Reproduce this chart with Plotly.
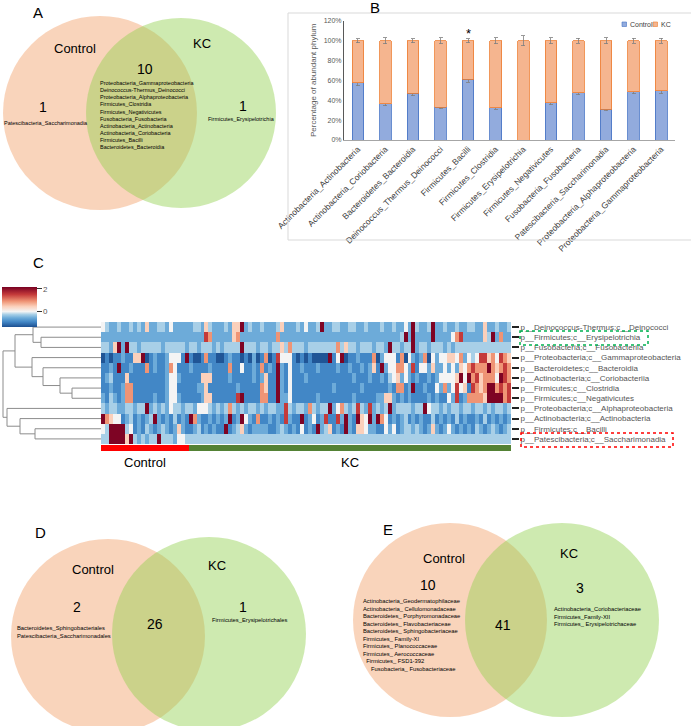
import plotly.graph_objects as go

W, H = 691, 726
FONT = "Liberation Sans"

# ---------------- Panel B data ----------------
bar_categories = [
    "Actinobacteria_Actinobacteria", "Actinobacteria_Coriobacteria", "Bacteroidetes_Bacteroidia",
    "Deinococcus_Thermus_Deinococci", "Firmicutes_Bacilli", "Firmicutes_Clostridia",
    "Firmicutes_Erysipelotrichia", "Firmicutes_Negativicutes", "Fusobacteria_Fusobacteria",
    "Patescibacteria_Saccharimonadia", "Proteobacteria_Alphaproteobacteria",
    "Proteobacteria_Gammaproteobacteria",
]
control_pct = [57.5, 36.5, 47, 33, 61, 32.5, 0, 37.5, 47.5, 31, 48.5, 49.5]
kc_pct = [42.5, 63.5, 53, 67, 39, 67.5, 100, 62.5, 52.5, 69, 51.5, 50.5]
control_err = [3, 2, 2.5, 1.5, 3, 1.5, 0, 2, 2, 1.5, 2, 3]
kc_err = [2, 3, 2, 3, 2, 3, 5, 3, 2.5, 3, 2.5, 2.5]
significant = ["Firmicutes_Bacilli"]
series_names = ["Control", "KC"]

# ---------------- Panel C data ----------------
row_labels = [
    "p__Deinococcus-Thermus;c__Deinococci",
    "p__Firmicutes;c__Erysipelotrichia",
    "p__Fusobacteria;c__Fusobacteriia",
    "p__Proteobacteria;c__Gammaproteobacteria",
    "p__Bacteroidetes;c__Bacteroidia",
    "p__Actinobacteria;c__Coriobacteriia",
    "p__Firmicutes;c__Clostridia",
    "p__Firmicutes;c__Negativicutes",
    "p__Proteobacteria;c__Alphaproteobacteria",
    "p__Actinobacteria;c__Actinobacteria",
    "p__Firmicutes;c__Bacilli",
    "p__Patescibacteria;c__Saccharimonadia",
]
# z-score levels, one letter per sample cell
level_values = {"D": -1.3, "B": -0.9, "b": -0.55, "l": -0.25, "w": 0.0,
                "p": 0.45, "o": 0.9, "r": 1.5, "R": 2.1}
heat_rows = [
    "wlbblbblbl bpbbllbwbb bbbllbplbb blbppRblbb lbbblpbbbl bwbblRbbll bbllbblbbb lbblbbwbRl bblRbblbbl bbllbbpbbl bbl",
    "bbbbbbbbbb bbbbbbbbbb bbbbbbrobb bbbpobbbbb bbbbobbbbb bbbbbbbbbb bbbbbbbbbb bbbbblRbRb bbbRbbbbwo rbbbbbplRb obb",
    "llbpRbRllb lllllbllll lbllblllbl bllllRlllb llbllploll lblllllllo lpllblllbl lbRllbllRb llblllblbl llllllllll lll",
    "DBDBBbBBpp RDBbBBbwww BRBDDBoBBD DBbBBDBDbD BoDBrwwwBD BDBDDDDRBw RDBBbBBBoD bwwwBoDwbB boDwbwwppw obwlwrrpow rop",
    "BBbBRBBbBB BoBbBBbowB BBbBBBBbBB BBoBBwBBbB oBbBRbBwBB bBBBbBBBBb BBbBBbBbpB RbwwoowbrB wwbpbbwbwb pworoooRop oro",
    "BblBBBpBBB BBBBBBbwwb BBBBBpppBB BBbBBBBBbB bpBBRbBwBB BbBBBBBBBB BBBbBBBbBB bBlwpbwbBb BBbBbwwwwp RwRorpooow Rro",
    "BBbBBbooBB BBBBBBbwwB BBBBbbpBBB BBBBbBBBBB opBBRbBwBB BBBBBBBBbB BBBBBbBBBB BBbBooBbRB BbBBwbobwr wpBropoRRo ror",
    "bBlbBbooBB BBBbBBbwwb BBBBBbppBB BBBBrRBBBB ooBBRbbwBB BBBBbBBBBB BBBbBBBBBb bppbBbBbBB BBbBbBBwbr BboooopRRR Ror",
    "lbllbbllbl lRblblbwll bllbwwwlbl blolblbllb lbllbbrlbl lbolbllRbw olblrlbrbl blRbllllbl lRwllblbll bllbllblbl lbl",
    "RopwwBblBb BblRbBbBlB bBRobBBbBb BbRBbRwbBo BBbBbBrbBB RBbwBbrBBr bRbBRpwRbR owBbBblBbB bBBlBbBbBl BbBBbBlBbB bBb",
    "wlRRRRlwBb BlbBblbBbp bBBblBbBbB BRBblpbBbb bbBBblbBbB wBbBRblpBb BRbBppwbbB BwbwBbllbl bBbpbBbwbB bBbBlbBblb Bbl",
    "llRRRRpRlb lbllRlllbw wlllllllll llllllllll llllllllll llllllllll llllllllll llllllllll llllllllll llllllllll lll",
]
n_control = 22
n_kc = 81
group_names = ["Control", "KC"]
# dendrogram merges: (left id, right id, height); leaves are rows 0..11
dendro_merges = [
    (1, 2, 60), (0, 12, 68), (6, 7, 29), (5, 14, 41), (4, 15, 58), (3, 16, 69),
    (13, 17, 86), (10, 11, 66), (9, 19, 81), (8, 20, 94), (18, 21, 98),
]

# ---------------- Venn data ----------------
venn_A_shared = ["Proteobacteria_Gammaproteobacteria", "Deinococcus-Thermus_Deinococci",
                 "Proteobacteria_Alphaproteobacteria", "Firmicutes_Clostridia",
                 "Firmicutes_Negativicutes", "Fusobacteria_Fusobacteria",
                 "Actinobacteria_Actinobacteria", "Actinobacteria_Coriobacteria",
                 "Firmicutes_Bacilli", "Bacteroidetes_Bacteroidia"]
venn_A_control = ["Patescibacteria_Saccharimonadia"]
venn_A_kc = ["Firmicutes_Erysipelotrichia"]
venn_A_counts = [1, 10, 1]
venn_D_control = ["Bacteroidetes_Sphingobacteriales", "Patescibacteria_Saccharimonadales"]
venn_D_kc = ["Firmicutes_Erysipelotrichales"]
venn_D_counts = [2, 26, 1]
venn_E_control = ["Actinobacteria_Geodermatophilaceae", "Actinobacteria_ Cellulomonadaceae",
                  "Bacteroidetes_ Porphyromonadaceae", "Bacteroidetes_ Flavobacteriaceae",
                  "Bacteroidetes_ Sphingobacteriaceae", "Firmicutes_ Family-XI",
                  "Firmicutes_ Planococcaceae", "Firmicutes_ Aerococcaceae",
                  "  Firmicutes_ FSD1-392", "     Fusobacteria_ Fusobacteriaceae"]
venn_E_kc = ["Actinobacteria_Coriobacteriaceae", "Firmicutes_Family-XII",
             "Firmicutes_ Erysipelotrichaceae"]
venn_E_counts = [10, 41, 3]

fig = go.Figure()

# ---------------- Panel B traces ----------------
ctrl_fill, ctrl_line = "#92ABDD", "#4472C4"
kc_fill, kc_line = "#F5B58F", "#ED7D31"
fig.add_trace(go.Bar(
    x=bar_categories, y=control_pct, name=series_names[0], xaxis="x", yaxis="y",
    marker=dict(color=ctrl_fill, line=dict(color=ctrl_line, width=0.8)),
    error_y=dict(type="data", array=control_err, color="#7f7f7f", thickness=0.8, width=2),
    showlegend=False,
))
fig.add_trace(go.Bar(
    x=bar_categories, y=kc_pct, name=series_names[1], xaxis="x", yaxis="y",
    marker=dict(color=kc_fill, line=dict(color=kc_line, width=0.8)),
    error_y=dict(type="data", array=kc_err, color="#7f7f7f", thickness=0.8, width=2),
    showlegend=False,
))

# ---------------- Panel C traces ----------------
z = []
for row in heat_rows:
    cells = row.replace(" ", "")
    z.append([level_values[c] for c in cells])
n_cols = len(z[0])
zmin, zmax = -1.35, 2.15
def npos(v):
    return (v - zmin) / (zmax - zmin)
cscale = [
    [0.0, "#1c4f90"], [npos(-0.9), "#4287c6"], [npos(-0.55), "#6dabd9"],
    [npos(-0.25), "#a8cfe7"], [npos(0.0), "#f4f4f4"], [npos(0.45), "#fbd0bb"],
    [npos(0.9), "#ef9475"], [npos(1.5), "#c43a3a"], [1.0, "#780022"],
]
fig.add_trace(go.Heatmap(
    z=z, x=list(range(n_cols)), y=list(range(len(row_labels))),
    xaxis="x2", yaxis="y2", zmin=zmin, zmax=zmax, colorscale=cscale,
    colorbar=dict(x=2 / W, xanchor="left", y=1 - 287 / H, yanchor="top",
                  len=40, lenmode="pixels", thickness=35, thicknessmode="pixels",
                  outlinewidth=0, tickvals=[0, 2], ticks="outside", ticklen=5,
                  tickcolor="#333", tickfont=dict(size=8, color="#555", family=FONT),
                  ypad=0, xpad=0),
    hoverinfo="skip",
))
groups = [0] * n_control + [1] * n_kc
fig.add_trace(go.Heatmap(
    z=[groups], x=list(range(len(groups))), y=[0], xaxis="x2", yaxis="y3",
    colorscale=[[0, "#ff0000"], [1, "#548235"]], showscale=False, zmin=0, zmax=1,
    hoverinfo="skip",
))

# dendrogram lines computed from merge list
node_y = {i: float(i) for i in range(len(row_labels))}
node_h = {i: 0.0 for i in range(len(row_labels))}
dx, dy = [], []
for k, (a, b, h) in enumerate(dendro_merges):
    nid = len(row_labels) + k
    dx += [node_h[a], h, h, node_h[b], None]
    dy += [node_y[a], node_y[a], node_y[b], node_y[b], None]
    node_y[nid] = (node_y[a] + node_y[b]) / 2
    node_h[nid] = h
fig.add_trace(go.Scatter(x=dx, y=dy, mode="lines", xaxis="x4", yaxis="y2",
                         line=dict(color="#8c8c8c", width=1), hoverinfo="skip",
                         showlegend=False))

# ---------------- Layout ----------------
shapes = []
ann = []

def px_text(x, y, text, size, anchor="center", color="#000", yanchor="middle"):
    ann.append(dict(x=x, y=y, xref="x5", yref="y5", text=text, showarrow=False,
                    xanchor=anchor, yanchor=yanchor,
                    font=dict(size=size, color=color, family=FONT)))

def circle(cx, cy, r, color):
    shapes.append(dict(type="circle", xref="x5", yref="y5", x0=cx - r, x1=cx + r,
                       y0=cy - r, y1=cy + r, fillcolor=color, line=dict(width=0),
                       layer="below"))

CTRL_C = "rgba(244,177,131,0.55)"
KC_C = "rgba(146,208,80,0.45)"

# Venn A
circle(100, 113, 97, CTRL_C)
circle(181, 113, 95, KC_C)
px_text(38, 12, "A", 15)
px_text(75, 48, "Control", 13)
px_text(202, 43, "KC", 13)
px_text(43, 107, str(venn_A_counts[0]), 14)
px_text(145, 69, str(venn_A_counts[1]), 14)
px_text(243, 106, str(venn_A_counts[2]), 14)
px_text(2, 123, "<br>".join(venn_A_control), 5.5, anchor="left")
px_text(206, 119, "<br>".join(venn_A_kc), 5.5, anchor="left")
ann.append(dict(x=98, y=78, xref="x5", yref="y5", text="<br>".join(venn_A_shared),
                showarrow=False, xanchor="left", yanchor="top", align="left",
                font=dict(size=5.5, family=FONT, color="#000")))

# Venn D
circle(108, 636, 97, CTRL_C)
circle(209, 634, 97, KC_C)
px_text(40, 532, "D", 15)
px_text(93, 569, "Control", 13)
px_text(217, 565, "KC", 13)
px_text(77, 607, str(venn_D_counts[0]), 14)
px_text(155, 624, str(venn_D_counts[1]), 14)
px_text(243, 607, str(venn_D_counts[2]), 14)
ann.append(dict(x=15, y=623, xref="x5", yref="y5", text="<br>".join(venn_D_control),
                showarrow=False, xanchor="left", yanchor="top", align="left",
                font=dict(size=5.8, family=FONT, color="#000")))
px_text(210, 620, "<br>".join(venn_D_kc), 5.8, anchor="left")

# Venn E
circle(450, 620, 97, CTRL_C)
circle(562, 620, 97, KC_C)
px_text(388, 529, "E", 15)
px_text(444, 558, "Control", 13)
px_text(569, 553, "KC", 13)
px_text(428, 585, str(venn_E_counts[0]), 14)
px_text(503, 625, str(venn_E_counts[1]), 14)
px_text(580, 588, str(venn_E_counts[2]), 14)
ann.append(dict(x=361, y=596, xref="x5", yref="y5", text="<br>".join(venn_E_control),
                showarrow=False, xanchor="left", yanchor="top", align="left",
                font=dict(size=5.8, family=FONT, color="#000")))
ann.append(dict(x=552, y=604, xref="x5", yref="y5", text="<br>".join(venn_E_kc),
                showarrow=False, xanchor="left", yanchor="top", align="left",
                font=dict(size=5.8, family=FONT, color="#000")))

# Panel B extras
shapes.append(dict(type="rect", xref="x5", yref="y5", x0=288, x1=702, y0=13, y1=240,
                   line=dict(color="#d9d9d9", width=1), layer="below"))
px_text(375, 7, "B", 15)
for cat in significant:
    i = bar_categories.index(cat)
    ann.append(dict(x=cat, y=100 + kc_err[i] + 5, xref="x", yref="y", text="*",
                    showarrow=False, font=dict(size=13, family=FONT, color="#000")))
# manual legend (avoids legend auto-margins)
for (lx, name, fill, line) in [(622, series_names[0], ctrl_fill, ctrl_line),
                               (653, series_names[1], kc_fill, kc_line)]:
    shapes.append(dict(type="rect", xref="x5", yref="y5", x0=lx, x1=lx + 4.5,
                       y0=22, y1=26.5, fillcolor=fill, line=dict(color=line, width=0.6)))
    px_text(lx + 6, 24.3, name, 7, anchor="left", color="#404040")

# Panel C extras
px_text(38, 262, "C", 15)
for g, name in enumerate(group_names):
    idx = [i for i, v in enumerate(groups) if v == g]
    ann.append(dict(x=sum(idx) / len(idx), y=1 - 463 / H, xref="x2", yref="paper",
                    text=name, showarrow=False,
                    font=dict(size=13, family=FONT, color="#000")))
shapes.append(dict(type="rect", xref="x5", yref="y5", x0=520, x1=648, y0=331, y1=345,
                   line=dict(color="#00b050", width=1.5, dash="dot")))
shapes.append(dict(type="rect", xref="x5", yref="y5", x0=521, x1=673, y0=433, y1=447,
                   line=dict(color="#ff0000", width=1.5, dash="dot")))

fig.update_layout(
    width=W, height=H, margin=dict(l=0, r=0, t=0, b=0, autoexpand=False),
    paper_bgcolor="white", plot_bgcolor="rgba(0,0,0,0)",
    font=dict(family=FONT),
    barmode="stack", bargap=0.58,
    showlegend=False,
    xaxis=dict(domain=[344 / W, 675 / W], anchor="y", tickangle=-45,
               tickfont=dict(size=8.5, color="#404040", family=FONT),
               showline=True, linecolor="#a6a6a6", linewidth=1, ticks="", showgrid=False),
    yaxis=dict(domain=[1 - 140 / H, 1 - 20.7 / H], anchor="x", range=[0, 120], dtick=20,
               ticksuffix="%", tickfont=dict(size=7, color="#595959", family=FONT),
               showline=True, linecolor="#595959", linewidth=1, showgrid=False,
               ticks="", zeroline=False,
               title=dict(text="Percentage of abundant phylum", standoff=5,
                          font=dict(size=8, color="#595959", family=FONT))),
    xaxis2=dict(domain=[101 / W, 511 / W], anchor="y2", range=[-0.5, n_cols - 0.5],
                visible=False),
    yaxis2=dict(domain=[1 - 444 / H, 1 - 322 / H], anchor="x2", side="right",
                range=[len(row_labels) - 0.5, -0.5],
                tickvals=list(range(len(row_labels))), ticktext=row_labels,
                ticks="outside", ticklen=7, tickwidth=1.5, tickcolor="#222",
                tickfont=dict(size=8, color="#555", family=FONT),
                showgrid=False, zeroline=False, showline=False),
    yaxis3=dict(domain=[1 - 451 / H, 1 - 445 / H], anchor="x2", visible=False),
    xaxis4=dict(domain=[0, 101 / W], anchor="y2", range=[101, 0], visible=False),
    xaxis5=dict(domain=[0, 1], anchor="y5", range=[0, W], visible=False, fixedrange=True),
    yaxis5=dict(domain=[0, 1], anchor="x5", range=[H, 0], visible=False, fixedrange=True),
    shapes=shapes, annotations=ann,
)
# invisible trace to activate pixel overlay axes
fig.add_trace(go.Scatter(x=[0], y=[0], xaxis="x5", yaxis="y5", mode="markers",
                         marker=dict(opacity=0), showlegend=False, hoverinfo="skip"))

fig.write_html("out.html", config={"displayModeBar": False},
               post_script="document.body.style.margin='0';document.body.style.overflow='hidden';")
